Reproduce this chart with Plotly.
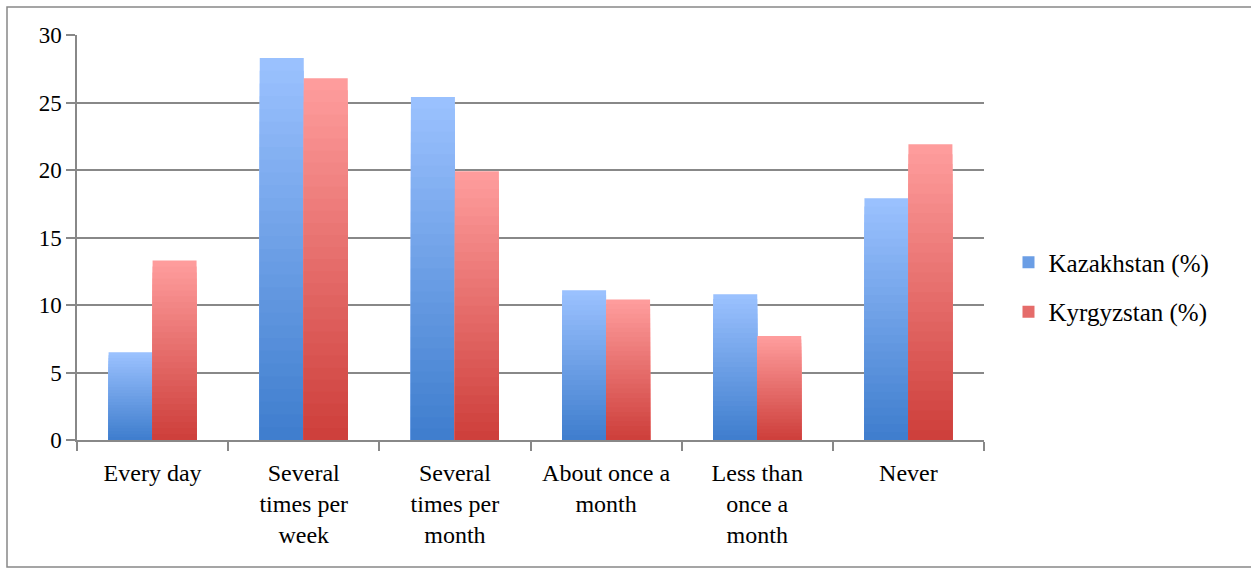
import plotly.graph_objects as go

categories = ["Every day", "Several times per week", "Several times per month",
              "About once a month", "Less than once a month", "Never"]
tick_labels = ["Every day", "Several<br>times per<br>week", "Several<br>times per<br>month",
               "About once a<br>month", "Less than<br>once a<br>month", "Never"]
kazakhstan = [6.5, 28.3, 25.4, 11.1, 10.8, 17.9]
kyrgyzstan = [13.3, 26.8, 19.9, 10.4, 7.7, 21.9]

series = [
    ("Kazakhstan (%)", kazakhstan, (156, 194, 255), (62, 125, 205), -0.291),
    ("Kyrgyzstan (%)", kyrgyzstan, (255, 158, 158), (205, 62, 58), 0.0),
]

N = 30
FONT = "Liberation Serif"
fig = go.Figure()
for name, vals, top, bot, off in series:
    for i in range(N):
        frac = 1 - i / N
        t = (i + 0.5) / N
        c = tuple(int(round(top[k] + (bot[k] - top[k]) * t)) for k in range(3))
        fig.add_trace(go.Bar(
            x=categories, y=[v * frac for v in vals],
            name=name, legendgroup=name,
            showlegend=(i == N // 2),
            marker=dict(color="rgb(%d,%d,%d)" % c, line=dict(width=0)),
            offset=off, width=0.291, hoverinfo="skip",
        ))

fig.update_layout(
    width=1251, height=569,
    barmode="overlay",
    paper_bgcolor="white", plot_bgcolor="white",
    margin=dict(l=77, r=267, t=35, b=129),
    font=dict(family=FONT, size=22, color="black"),
    showlegend=True,
    legend=dict(x=1.027, y=0.378, xanchor="left", yanchor="middle",
                traceorder="grouped", tracegroupgap=14,
                font=dict(family=FONT, size=25, color="black"), bgcolor="rgba(0,0,0,0)"),
    xaxis=dict(tickmode="array", tickvals=categories, ticktext=tick_labels,
               tickson="boundaries", ticks="outside", ticklen=9, tickwidth=1.5,
               tickcolor="#888888", showline=True, linecolor="#888888", linewidth=1.5,
               showgrid=False, tickfont=dict(family=FONT, size=24), range=[-0.5, 5.5],
               ticklabelstandoff=10),
    yaxis=dict(range=[0, 30], dtick=5, ticks="outside", ticklen=9, tickwidth=1.5,
               tickcolor="#888888", showline=True, linecolor="#888888", linewidth=1.5,
               showgrid=True, gridcolor="#888888", gridwidth=1.5, zeroline=False,
               tickfont=dict(family=FONT, size=23)),
    shapes=[dict(type="rect", xref="paper", yref="paper",
                 x0=(7 - 77) / 907, x1=(1260 - 77) / 907,
                 y0=(440 - 567) / 405, y1=(440 - 7) / 405,
                 line=dict(color="#888888", width=1.5), fillcolor="rgba(0,0,0,0)",
                 layer="below")],
)

fig.write_html("out.html", config={"displayModeBar": False},
               post_script="document.body.style.margin='0px';")
